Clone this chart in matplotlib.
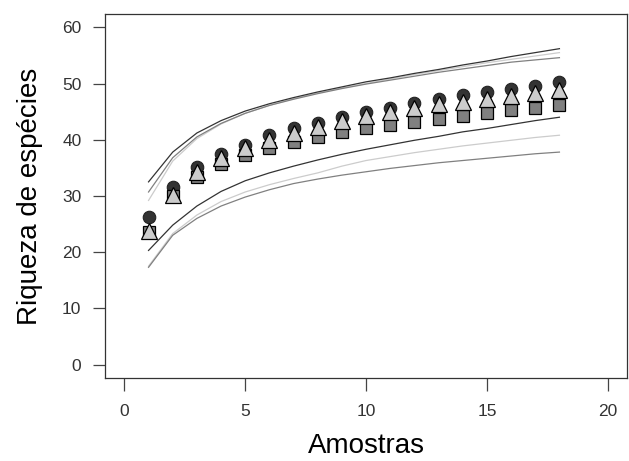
import matplotlib
matplotlib.use('Agg')
import matplotlib.pyplot as plt

plt.rcParams['font.family'] = ['Liberation Sans', 'DejaVu Sans']

amostras = list(range(1, 19))

# riqueza observada / estimadores
circulos = [26.3, 31.6, 35.2, 37.5, 39.1, 40.8, 42.0, 43.0, 44.0, 45.0,
            45.7, 46.5, 47.2, 47.9, 48.5, 49.1, 49.6, 50.2]
triangulos = [23.8, 30.1, 34.3, 36.7, 38.6, 40.0, 41.2, 42.3, 43.3, 44.2,
              45.0, 45.7, 46.3, 46.8, 47.3, 47.8, 48.3, 48.8]
quadrados = [23.5, 30.0, 33.4, 35.6, 37.2, 38.6, 39.6, 40.5, 41.3, 42.0,
             42.6, 43.2, 43.7, 44.3, 44.7, 45.3, 45.7, 46.2]

# intervalos de confianca
sup_escuro = [32.5, 37.8, 41.2, 43.4, 45.1, 46.4, 47.5, 48.5, 49.4, 50.3,
              51.0, 51.8, 52.5, 53.3, 54.0, 54.8, 55.5, 56.2]
sup_cinza = [30.7, 36.8, 40.5, 42.9, 44.7, 46.1, 47.2, 48.2, 49.1, 49.9,
             50.6, 51.3, 52.0, 52.6, 53.2, 53.8, 54.2, 54.6]
sup_claro = [29.2, 36.2, 40.2, 42.8, 44.7, 46.1, 47.3, 48.3, 49.2, 50.0,
             50.8, 51.6, 52.3, 53.0, 53.7, 54.3, 54.9, 55.5]
inf_escuro = [20.3, 24.8, 28.2, 30.8, 32.7, 34.1, 35.3, 36.4, 37.4, 38.3,
              39.1, 39.9, 40.6, 41.4, 42.0, 42.7, 43.4, 44.0]
inf_claro = [17.5, 23.3, 26.6, 29.0, 30.7, 32.0, 33.1, 34.1, 35.3, 36.3,
             37.0, 37.7, 38.3, 38.9, 39.4, 39.9, 40.4, 40.8]
inf_cinza = [17.3, 23.0, 26.0, 28.2, 29.8, 31.1, 32.2, 33.0, 33.7, 34.3,
             34.9, 35.4, 35.9, 36.3, 36.7, 37.1, 37.5, 37.8]

escuro = '#333333'
cinza = '#808080'
claro = '#cccccc'

fig = plt.figure(figsize=(6.29, 4.61), dpi=100)
ax = fig.add_axes([0.167, 0.18, 0.83, 0.79])

ax.plot(amostras, sup_claro, color=claro, lw=0.9)
ax.plot(amostras, sup_cinza, color=cinza, lw=0.9)
ax.plot(amostras, sup_escuro, color=escuro, lw=0.9)
ax.plot(amostras, inf_claro, color=claro, lw=0.9)
ax.plot(amostras, inf_cinza, color=cinza, lw=0.9)
ax.plot(amostras, inf_escuro, color=escuro, lw=0.9)

ax.plot(amostras, circulos, 'o', ms=9, mfc=escuro, mec='#222222', mew=0.8)
ax.plot(amostras, quadrados, 's', ms=8, mfc=cinza, mec='black', mew=0.9)
ax.plot(amostras, triangulos, '^', ms=11, mfc=claro, mec='black', mew=0.9)

ax.set_xlim(-0.8, 20.8)
ax.set_ylim(-2.4, 62.4)
ax.set_xticks([0, 5, 10, 15, 20])
ax.set_yticks([0, 10, 20, 30, 40, 50, 60])
ax.tick_params(direction='out', length=9, width=0.9, color='#444444',
               labelsize=12.5, labelcolor='#333333')
ax.tick_params(axis='x', pad=10)
ax.tick_params(axis='y', pad=8)
for s in ax.spines.values():
    s.set_color('#333333')
    s.set_linewidth(0.9)

ax.set_xlabel('Amostras', fontsize=20, labelpad=10)
ax.set_ylabel('Riqueza de espécies', fontsize=20, labelpad=14)

fig.savefig('out.png', dpi=100)
